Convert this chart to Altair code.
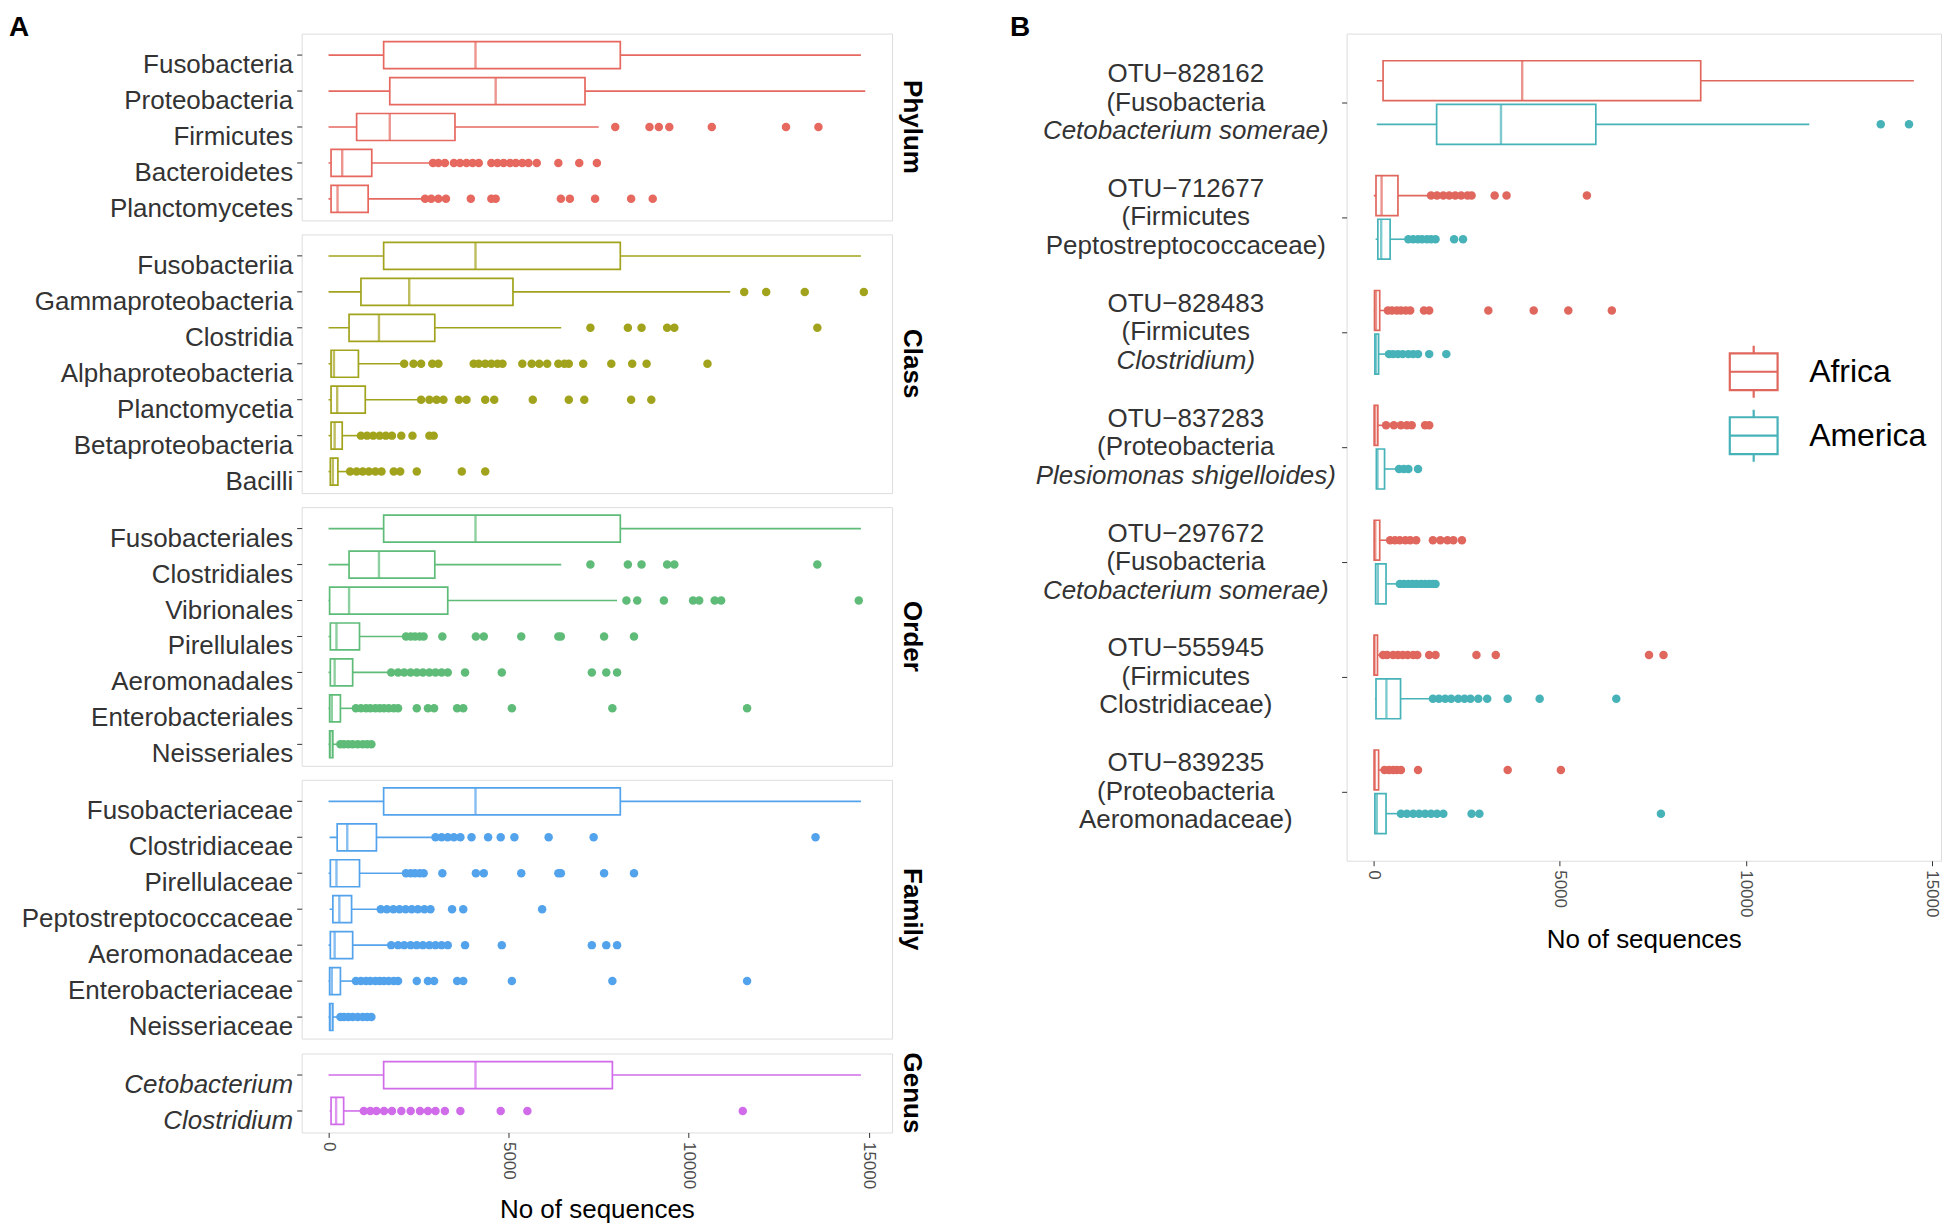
import altair as alt
import pandas as pd

FONT = "Liberation Sans"
LABEL_COLOR = "#333333"
X_DOMAIN_A = [-745, 15645]
X_DOMAIN_B = [-730, 15250]
X_TICKS = [0, 5000, 10000, 15000]

# ---------------- Panel A data ----------------
phylum_cats = ["Fusobacteria", "Proteobacteria", "Firmicutes", "Bacteroidetes", "Planctomycetes"]
phylum_lo = [0, 0, 0, 0, 0]
phylum_q1 = [1530, 1700, 780, 70, 70]
phylum_med = [4080, 4640, 1700, 380, 250]
phylum_q3 = [8100, 7120, 3510, 1200, 1100]
phylum_hi = [14780, 14900, 7500, 2850, 2620]
phylum_out = [
    [],
    [],
    [7960, 8910, 9170, 9460, 10640, 12700, 13600],
    [2900, 3050, 3230, 3480, 3650, 3830, 4000, 4170, 4520, 4690, 4860, 5040, 5200, 5380, 5550, 5780, 6380, 6960, 7450],
    [2680, 2850, 3050, 3260, 3950, 4520, 4640, 6450, 6700, 7400, 8400, 9000],
]

class_cats = ["Fusobacteriia", "Gammaproteobacteria", "Clostridia", "Alphaproteobacteria",
              "Planctomycetia", "Betaproteobacteria", "Bacilli"]
class_lo = [0, 0, 0, 0, 0, 0, 0]
class_q1 = [1530, 900, 570, 70, 70, 70, 50]
class_med = [4080, 2240, 1400, 150, 240, 170, 120]
class_q3 = [8100, 5120, 2950, 830, 1020, 380, 260]
class_hi = [14780, 11150, 6460, 2020, 2500, 810, 550]
class_out = [
    [],
    [11540, 12150, 13220, 14860],
    [7270, 8310, 8690, 9400, 9600, 13570],
    [2100, 2360, 2570, 2880, 3050, 4030, 4170, 4350, 4520, 4690, 4830, 5380, 5640, 5850, 6070,
     6380, 6550, 6670, 7070, 7850, 8430, 8830, 10520],
    [2570, 2800, 3000, 3190, 3620, 3830, 4350, 4600, 5670, 6670, 7100, 8400, 8960],
    [900, 1070, 1240, 1420, 1590, 1760, 2020, 2330, 2800, 2920],
    [600, 780, 950, 1120, 1300, 1470, 1810, 1990, 2450, 3700, 4350],
]

order_cats = ["Fusobacteriales", "Clostridiales", "Vibrionales", "Pirellulales",
              "Aeromonadales", "Enterobacteriales", "Neisseriales"]
order_lo = [0, 0, 0, 0, 0, 0, 0]
order_q1 = [1530, 570, 30, 50, 50, 30, 30]
order_med = [4080, 1400, 570, 220, 170, 90, 50]
order_q3 = [8100, 2950, 3310, 860, 670, 330, 120]
order_hi = [14780, 6460, 8010, 2100, 1670, 690, 260]
order_out = [
    [],
    [7270, 8310, 8690, 9400, 9600, 13570],
    [8270, 8570, 9310, 10120, 10290, 10720, 10900, 14720],
    [2150, 2280, 2400, 2530, 2640, 3160, 4090, 4310, 5350, 6380, 6450, 7650, 8480],
    [1740, 1930, 2100, 2280, 2450, 2620, 2800, 2970, 3140, 3310, 3790, 4810, 7310, 7710, 8010],
    [760, 900, 1040, 1160, 1300, 1420, 1540, 1670, 1810, 1930, 2450, 2760, 2930, 3570, 3740, 5090, 7880, 11620],
    [330, 430, 550, 670, 810, 950, 1070, 1190],
]

family_cats = ["Fusobacteriaceae", "Clostridiaceae", "Pirellulaceae", "Peptostreptococcaceae",
               "Aeromonadaceae", "Enterobacteriaceae", "Neisseriaceae"]
family_lo = [0, 30, 0, 30, 0, 0, 0]
family_q1 = [1530, 240, 50, 120, 50, 30, 30]
family_med = [4080, 520, 220, 300, 170, 90, 50]
family_q3 = [8100, 1330, 860, 640, 670, 330, 120]
family_hi = [14780, 2880, 2100, 1380, 1670, 690, 260]
family_out = [
    [],
    [2970, 3140, 3310, 3480, 3660, 3970, 4430, 4780, 5160, 6110, 7360, 13520],
    [2150, 2280, 2400, 2530, 2640, 3160, 4090, 4310, 5350, 6380, 6450, 7650, 8480],
    [1450, 1620, 1800, 1970, 2140, 2310, 2480, 2660, 2830, 3430, 3740, 5930],
    [1740, 1930, 2100, 2280, 2450, 2620, 2800, 2970, 3140, 3310, 3790, 4810, 7310, 7710, 8010],
    [760, 900, 1040, 1160, 1300, 1420, 1540, 1670, 1810, 1930, 2450, 2760, 2930, 3570, 3740, 5090, 7880, 11620],
    [330, 430, 550, 670, 810, 950, 1070, 1190],
]

genus_cats = ["Cetobacterium", "Clostridium"]
genus_lo = [0, 30]
genus_q1 = [1530, 70]
genus_med = [4080, 210]
genus_q3 = [7880, 420]
genus_hi = [14780, 900]
genus_out = [
    [],
    [980, 1160, 1330, 1540, 1760, 2020, 2280, 2540, 2760, 2970, 3230, 3660, 4780, 5520, 11500],
]

# ---------------- Panel B data ----------------
otu_ids = ["OTU\u2212828162", "OTU\u2212712677", "OTU\u2212828483", "OTU\u2212837283",
           "OTU\u2212297672", "OTU\u2212555945", "OTU\u2212839235"]
otu_line2 = ["(Fusobacteria", "(Firmicutes", "(Firmicutes", "(Proteobacteria",
             "(Fusobacteria", "(Firmicutes", "(Proteobacteria"]
otu_line3 = ["Cetobacterium somerae)", "Peptostreptococcaceae)", "Clostridium)",
             "Plesiomonas shigelloides)", "Cetobacterium somerae)", "Clostridiaceae)",
             "Aeromonadaceae)"]
otu_line3_italic = [True, False, True, True, True, False, False]

regions = ["Africa", "America"]
africa_lo = [80, 0, 0, 0, 0, 0, 0]
africa_q1 = [250, 60, 20, 10, 10, 10, 10]
africa_med = [3990, 210, 60, 40, 40, 20, 30]
africa_q3 = [8790, 650, 160, 110, 160, 100, 130]
africa_hi = [14520, 1490, 290, 250, 380, 160, 200]
africa_out = [
    [],
    [1540, 1700, 1870, 2030, 2190, 2350, 2520, 2630, 3250, 3570, 5730],
    [380, 490, 620, 730, 860, 980, 1350, 1490, 3080, 4300, 5230, 6400],
    [330, 540, 730, 890, 1020, 1380, 1490],
    [440, 570, 700, 850, 980, 1140, 1590, 1790, 1980, 2140, 2370],
    [250, 360, 520, 650, 780, 910, 1060, 1170, 1490, 1660, 2760, 3280, 7400, 7790],
    [290, 410, 520, 620, 730, 1190, 3600, 5030],
]
america_lo = [80, 50, 20, 60, 40, 30, 30]
america_q1 = [1690, 110, 30, 70, 50, 60, 30]
america_med = [3420, 200, 60, 100, 110, 340, 80]
america_q3 = [5970, 440, 130, 290, 330, 720, 330]
america_hi = [11710, 850, 360, 570, 650, 1490, 650]
america_out = [
    [13630, 14390],
    [930, 1060, 1190, 1300, 1430, 1540, 1660, 2160, 2400],
    [410, 520, 650, 780, 930, 1060, 1190, 1490, 1950],
    [680, 810, 930, 1190],
    [700, 810, 930, 1040, 1150, 1270, 1380, 1490, 1590, 1660],
    [1590, 1750, 1920, 2080, 2270, 2440, 2600, 2810, 3050, 3600, 4460, 6520],
    [730, 890, 1060, 1220, 1380, 1540, 1700, 1870, 2630, 2840, 7720],
]
region_colors = ["#E0675D", "#47B3B9"]

panel_letters = ["A", "B"]

# ---------------- helpers ----------------
W_A = 591
STEP_A = 36
BOX_A = 27
LAB_FS = 26


def letter_layer(letter, dx):
    return alt.Chart(pd.DataFrame({"t": [letter]})).mark_text(
        fontSize=28, fontWeight="bold", font=FONT, color="black", align="left", baseline="top"
    ).encode(x=alt.value(dx), y=alt.value(-20), text="t:N")


def a_panel(name, cats, lo, q1, med, q3, hi, outl, color, show_x=False, italic=False, extra=None):
    height = round((len(cats) + 0.2) * STEP_A)
    box = pd.DataFrame({"cat": cats, "lo": lo, "q1": q1, "med": med, "q3": q3, "hi": hi})
    pts = pd.DataFrame([(c, v) for c, vals in zip(cats, outl) for v in vals], columns=["cat", "value"])
    xscale = alt.Scale(domain=X_DOMAIN_A, nice=False, zero=False)
    if show_x:
        xaxis = alt.Axis(values=X_TICKS, format="d", grid=False, domain=False, labelAngle=90,
                         labelAlign="left", labelBaseline="middle", labelFontSize=17,
                         labelColor="#4d4d4d", labelPadding=4, tickSize=5, tickColor="#333333",
                         title="No of sequences", titleFontSize=26, titleFontWeight="normal",
                         titleColor="black", titlePadding=8)
    else:
        xaxis = None

    def xe(field):
        return alt.X(field, type="quantitative", scale=xscale, axis=xaxis)

    yaxis = alt.Axis(title=None, labelFontSize=LAB_FS, labelColor=LABEL_COLOR, labelOffset=10,
                     labelPadding=4, tickSize=5, tickColor="#333333", domain=False, grid=False,
                     labelFontStyle="italic" if italic else "normal", labelLimit=400)
    ye = alt.Y("cat:N", sort=cats, scale=alt.Scale(domain=cats, paddingInner=0, paddingOuter=0.1), axis=yaxis)

    whisk = alt.Chart(box).mark_rule(color=color, strokeWidth=1.6).encode(x=xe("lo"), x2="hi:Q", y=ye)
    bx = alt.Chart(box).mark_bar(fill="white", stroke=color, strokeWidth=1.7, height=BOX_A).encode(
        x=xe("q1"), x2="q3:Q", y=ye)
    md = alt.Chart(box).mark_tick(color=color, thickness=2.4, size=BOX_A, orient="vertical").encode(
        x=xe("med"), y=ye)
    pt = alt.Chart(pts).mark_circle(color=color, size=72, opacity=1).encode(x=xe("value"), y=ye)
    lab = alt.Chart(pd.DataFrame({"t": [name]})).mark_text(
        angle=90, fontSize=26, fontWeight="bold", font=FONT, color="black", align="center",
        baseline="middle").encode(x=alt.value(W_A + 20), y=alt.value(height / 2), text="t:N")
    layers = [whisk, bx, md, pt, lab]
    if extra is not None:
        layers.append(extra)
    return alt.layer(*layers).properties(width=W_A, height=height)


p_phylum = a_panel("Phylum", phylum_cats, phylum_lo, phylum_q1, phylum_med, phylum_q3, phylum_hi,
                   phylum_out, "#E6685F", extra=letter_layer(panel_letters[0], -293))
p_class = a_panel("Class", class_cats, class_lo, class_q1, class_med, class_q3, class_hi,
                  class_out, "#A2A31C")
p_order = a_panel("Order", order_cats, order_lo, order_q1, order_med, order_q3, order_hi,
                  order_out, "#5FBC78")
p_family = a_panel("Family", family_cats, family_lo, family_q1, family_med, family_q3, family_hi,
                   family_out, "#53A3EC")
p_genus = a_panel("Genus", genus_cats, genus_lo, genus_q1, genus_med, genus_q3, genus_hi,
                  genus_out, "#D06CEA", show_x=True, italic=True)

left = alt.vconcat(p_phylum, p_class, p_order, p_family, p_genus, spacing=11)

# ---------------- Panel B ----------------
W_B = 595
H_B = 828
box_rows = []
pt_rows = []
for reg, lo, q1, med, q3, hi, outl in [
    ("Africa", africa_lo, africa_q1, africa_med, africa_q3, africa_hi, africa_out),
    ("America", america_lo, america_q1, america_med, america_q3, america_hi, america_out),
]:
    for i, otu in enumerate(otu_ids):
        box_rows.append({"otu": otu, "region": reg, "lo": lo[i], "q1": q1[i], "med": med[i],
                         "q3": q3[i], "hi": hi[i]})
        for v in outl[i]:
            pt_rows.append({"otu": otu, "region": reg, "value": v})
box_b = pd.DataFrame(box_rows)
pts_b = pd.DataFrame(pt_rows)
lab_b = pd.DataFrame({"otu": otu_ids, "l1": otu_ids, "l2": otu_line2, "l3": otu_line3,
                      "it": otu_line3_italic})

xscale_b = alt.Scale(domain=X_DOMAIN_B, nice=False, zero=False)
xaxis_b = alt.Axis(values=X_TICKS, format="d", grid=False, domain=False, labelAngle=90,
                   labelAlign="left", labelBaseline="middle", labelFontSize=17, labelColor="#4d4d4d",
                   labelPadding=4, tickSize=5, tickColor="#333333", title="No of sequences",
                   titleFontSize=26, titleFontWeight="normal", titleColor="black", titlePadding=10)


def xb(field):
    return alt.X(field, type="quantitative", scale=xscale_b, axis=xaxis_b)


yb = alt.Y("otu:N", sort=otu_ids,
           scale=alt.Scale(domain=otu_ids, paddingInner=0.24, paddingOuter=0.22),
           axis=alt.Axis(title=None, labels=False, tickSize=5, tickColor="#333333", domain=False, grid=False))
yo = alt.YOffset("region:N", sort=regions, scale=alt.Scale(domain=regions))
# stroke scale (with legend) and colour scale (no legend) use differently ordered domains
stroke_scale = alt.Scale(domain=regions, range=region_colors)
color_scale = alt.Scale(domain=regions[::-1], range=region_colors[::-1])

LEGEND_PATH = "M-0.92,-0.71H0.92V0.71H-0.92Z M-0.92,0H0.92 M0,-0.71V-1 M0,0.71V1"

whisk_b = alt.Chart(box_b).mark_rule(strokeWidth=1.6).encode(
    x=xb("lo"), x2="hi:Q", y=yb, yOffset=yo,
    color=alt.Color("region:N", scale=color_scale, legend=None))
bx_b = alt.Chart(box_b).mark_bar(fill="white", strokeWidth=1.7, height=40).encode(
    x=xb("q1"), x2="q3:Q", y=yb, yOffset=yo,
    stroke=alt.Stroke("region:N", scale=stroke_scale,
                      legend=alt.Legend(title=None, orient="none", legendX=1426, legendY=311,
                                        symbolType=LEGEND_PATH, symbolSize=2704, symbolStrokeWidth=2.2,
                                        symbolFillColor="white", labelFontSize=32, labelFont=FONT,
                                        labelColor="black", labelOffset=28, rowPadding=3, padding=0)))
md_b = alt.Chart(box_b).mark_tick(thickness=2.4, size=40, orient="vertical").encode(
    x=xb("med"), y=yb, yOffset=yo, color=alt.Color("region:N", scale=color_scale, legend=None))
pt_b = alt.Chart(pts_b).mark_circle(size=72, opacity=1).encode(
    x=xb("value"), y=yb, yOffset=yo, color=alt.Color("region:N", scale=color_scale, legend=None))

LX = -161
txt_kw = dict(fontSize=LAB_FS, font=FONT, color=LABEL_COLOR, align="center", baseline="middle")
t1 = alt.Chart(lab_b).mark_text(dy=-28.5, **txt_kw).encode(x=alt.value(LX), y=yb, text="l1:N")
t2 = alt.Chart(lab_b).mark_text(dy=0, **txt_kw).encode(x=alt.value(LX), y=yb, text="l2:N")
t3i = alt.Chart(lab_b).transform_filter("datum.it").mark_text(dy=28.5, fontStyle="italic", **txt_kw).encode(
    x=alt.value(LX), y=yb, text="l3:N")
t3n = alt.Chart(lab_b).transform_filter("!datum.it").mark_text(dy=28.5, **txt_kw).encode(
    x=alt.value(LX), y=yb, text="l3:N")

right = alt.layer(whisk_b, bx_b, md_b, pt_b, t1, t2, t3i, t3n,
                  letter_layer(panel_letters[1], -337)).properties(width=W_B, height=H_B)

chart = alt.hconcat(left, right, spacing=83).properties(
    padding={"left": 0, "top": 4, "right": 0, "bottom": 0}
).configure_view(stroke="#808080", strokeWidth=1.3).configure_axis(
    labelFont=FONT, titleFont=FONT
).configure(background="white")

chart.save("out.html", embed_options={"renderer": "svg", "actions": False})
